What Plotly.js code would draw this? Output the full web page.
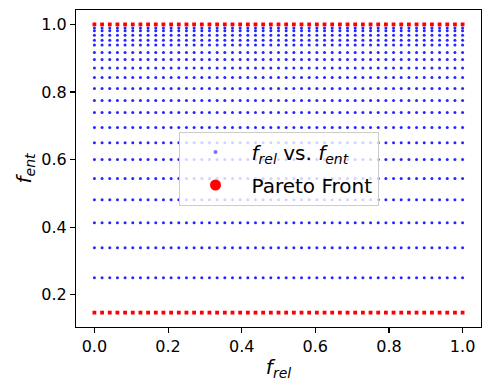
<!DOCTYPE html>
<html>
<head>
<meta charset="utf-8">
<script src="https://cdn.plot.ly/plotly-3.0.1.min.js"></script>
<style>
  html, body { margin: 0; padding: 0; background: #fff; }
  #chart { width: 490px; height: 390px; }
</style>
</head>
<body>
<div id="chart"></div>
<script>
// f_rel grid (49 columns)
const F_REL = [0, 0.0208, 0.0417, 0.0625, 0.0833, 0.1042, 0.125, 0.1458, 0.1667, 0.1875,
  0.2083, 0.2292, 0.25, 0.2708, 0.2917, 0.3125, 0.3333, 0.3542, 0.375, 0.3958,
  0.4167, 0.4375, 0.4583, 0.4792, 0.5, 0.5208, 0.5417, 0.5625, 0.5833, 0.6042,
  0.625, 0.6458, 0.6667, 0.6875, 0.7083, 0.7292, 0.75, 0.7708, 0.7917, 0.8125,
  0.8333, 0.8542, 0.875, 0.8958, 0.9167, 0.9375, 0.9583, 0.9792, 1];

// f_ent levels of the blue cloud
const F_ENT_LEVELS = [0.989, 0.981, 0.968, 0.953, 0.939, 0.917, 0.896, 0.871, 0.843, 0.810,
  0.775, 0.739, 0.695, 0.650, 0.600, 0.544, 0.481, 0.413, 0.339, 0.250];

// f_ent levels of the Pareto front rows
const PARETO_LEVELS = [1.0, 0.147];

const X_TICKS = [0, 0.2, 0.4, 0.6, 0.8, 1.0];
const Y_TICKS = [0.2, 0.4, 0.6, 0.8, 1.0];

const FONT = 'DejaVu Sans, sans-serif';

// ---- build the grids --------------------------------------------------------
function grid(levels) {
  const xs = [], ys = [];
  levels.forEach((y) => F_REL.forEach((x) => { xs.push(x); ys.push(y); }));
  return { xs, ys };
}
const cloud = grid(F_ENT_LEVELS), front = grid(PARETO_LEVELS);

const traces = [
  { x: cloud.xs, y: cloud.ys, type: 'scatter', mode: 'markers', showlegend: false,
    marker: { color: 'rgb(0,0,255)', size: 3, opacity: 0.85 }, hoverinfo: 'skip' },
  { x: front.xs, y: front.ys, type: 'scatter', mode: 'markers', showlegend: false,
    marker: { color: 'rgb(255,0,0)', size: 3.8, symbol: 'square' }, hoverinfo: 'skip' },
  // legend-only entries (different marker size than the plotted points)
  { x: [null], y: [null], type: 'scatter', mode: 'markers', legendgroup: 'a',
    name: '<i>f</i><sub><i>rel</i></sub> vs. <i>f</i><sub><i>ent</i></sub>',
    marker: { color: 'rgba(0,0,255,0.55)', size: 4 } },
  { x: [null], y: [null], type: 'scatter', mode: 'markers', legendgroup: 'b', name: 'Pareto Front',
    marker: { color: 'rgb(255,0,0)', size: 11 } },
];

function axis(title, ticks) {
  return {
    title: { text: title, font: { size: 20, family: FONT, color: '#000' }, standoff: 4 },
    tickvals: ticks, tickformat: '.1f',
    ticks: 'outside', ticklen: 5, tickwidth: 1.1, tickcolor: '#000',
    tickfont: { size: 16, family: FONT, color: '#000' },
    showline: true, linecolor: '#000', linewidth: 1.1, mirror: true,
    showgrid: false, zeroline: false,
  };
}

const layout = {
  width: 490, height: 390,
  margin: { l: 76, r: 9, t: 10, b: 63 },
  paper_bgcolor: '#fff', plot_bgcolor: '#fff',
  font: { family: FONT, color: '#000' },
  xaxis: { ...axis('<i>f</i><sub><i>rel</i></sub>', X_TICKS), range: [-0.05, 1.05] },
  yaxis: { ...axis('<i>f</i><sub><i>ent</i></sub>', Y_TICKS), range: [0.1044, 1.0426] },
  showlegend: true,
  legend: {
    x: 0.5, y: 0.5, xanchor: 'center', yanchor: 'middle',
    bgcolor: 'rgba(255,255,255,0.8)', bordercolor: '#cccccc', borderwidth: 1,
    font: { size: 20, family: FONT, color: '#000' },
    itemwidth: 62, itemsizing: 'trace',
    traceorder: 'grouped', tracegroupgap: 4,
  },
};

Plotly.newPlot('chart', traces, layout, { staticPlot: true, displayModeBar: false });
</script>
</body>
</html>
